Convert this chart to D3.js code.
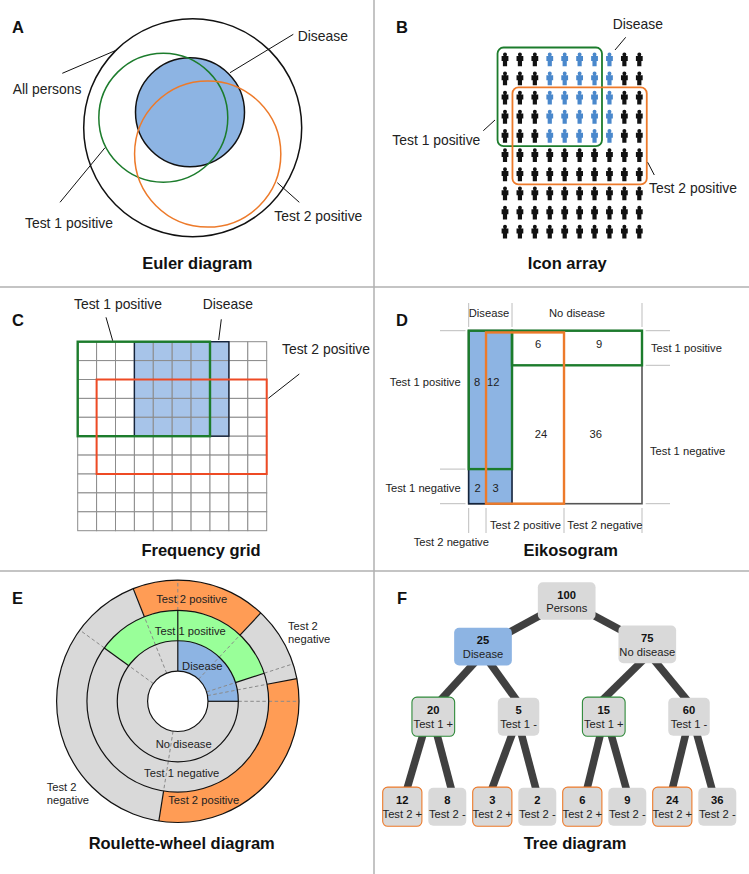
<!DOCTYPE html>
<html>
<head>
<meta charset="utf-8">
<script src="https://d3js.org/d3.v7.min.js"></script>
<style>
  html, body { margin: 0; padding: 0; background: #fff; }
  text { font-family: "Liberation Sans", Arial, sans-serif; }
</style>
</head>
<body>
<svg id="chart"></svg>
<script>
// counts of the worked example
const allPersons = 100;
const diseaseCount = 25;
const test1Count = 35;
const test2Count = 45;

// icon array and frequency grid share the same 10 x 10 layout
const gridCols = d3.range(10);
const gridRows = d3.range(10);
const diseaseCols = [3, 4, 5, 6, 7];
const diseaseRows = [0, 1, 2, 3, 4];
const test1Cols = [0, 1, 2, 3, 4, 5, 6];
const test1Rows = [0, 1, 2, 3, 4];
const test2Cols = [1, 2, 3, 4, 5, 6, 7, 8, 9];
const test2Rows = [2, 3, 4, 5, 6];

// eikosogram, in percent of all persons
const eikoDiseaseWidth = 25;
const eikoTest2NegInDisease = 10;
const eikoTest2PosEnd = 55;
const eikoTest1PosInDisease = 80;
const eikoTest1PosInHealthy = 20;
const eikoNumbers = ['8', '12', '6', '9', '24', '36', '2', '3'];

// roulette wheel, in percent of the circle
const wheelRing1 = [25, 75];
const wheelRing2 = [20, 65, 15];
const wheelRing3 = [18, 10, 30.5, 41.5];
const wheelRing3Start = -6;
const wheelRing1Kinds = ['disease', 'grey'];
const wheelRing2Kinds = ['test1', 'grey', 'test1'];
const wheelRing3Kinds = ['test2', 'grey', 'test2', 'grey'];

// tree, level by level
const treeValues = [[100], [25, 75], [20, 5, 15, 60], [12, 8, 3, 2, 6, 9, 24, 36]];
const treeLabels = [
  ['Persons'],
  ['Disease', 'No disease'],
  ['Test 1 +', 'Test 1 -', 'Test 1 +', 'Test 1 -'],
  ['Test 2 +', 'Test 2 -', 'Test 2 +', 'Test 2 -', 'Test 2 +', 'Test 2 -', 'Test 2 +', 'Test 2 -']
];

const width = 749;
const height = 874;
const blue = '#8db4e3';
const grey = '#d9d9d9';
const green = '#1c7c2c';
const orange = '#ed7a2a';
const small = 11.2;

const svg = d3.select('#chart')
  .attr('width', width)
  .attr('height', height)
  .style('display', 'block');

function label(x, y, str, size = 13.9, anchor = 'start', fill = '#222') {
  return svg.append('text')
    .attr('x', x)
    .attr('y', y)
    .attr('font-size', size)
    .attr('text-anchor', anchor)
    .attr('fill', fill)
    .text(str);
}

function heading(x, y, str) {
  label(x, y, str, 16.5, 'middle', '#111').attr('font-weight', 'bold');
}

function letter(x, y, str) {
  label(x, y, str, 16.5, 'start', '#111').attr('font-weight', 'bold');
}

function leader(x1, y1, x2, y2, color = '#111', w = 1) {
  svg.append('line')
    .attr('x1', x1).attr('y1', y1).attr('x2', x2).attr('y2', y2)
    .attr('stroke', color)
    .attr('stroke-width', w);
}

function box(x0, y0, x1, y1, stroke, w, fill = 'none', r = 0) {
  svg.append('rect')
    .attr('x', x0).attr('y', y0)
    .attr('width', x1 - x0).attr('height', y1 - y0)
    .attr('rx', r)
    .attr('fill', fill)
    .attr('stroke', stroke)
    .attr('stroke-width', w);
}

// panel dividers
leader(374, 0, 374, height, '#b0b0b0', 1.5);
leader(0, 287, width, 287, '#b0b0b0', 1.5);
leader(0, 571, width, 571, '#b0b0b0', 1.5);

// ---------- A: Euler diagram ----------
const eulerR = d3.scaleSqrt().domain([0, 100]).range([0, 109]);

function eulerCircle(cx, cy, count, stroke, fill, w) {
  svg.append('circle')
    .attr('cx', cx).attr('cy', cy)
    .attr('r', eulerR(count))
    .attr('fill', fill)
    .attr('stroke', stroke)
    .attr('stroke-width', w);
}

eulerCircle(192.7, 127.7, allPersons, '#111', 'none', 1.5);
eulerCircle(190, 112.3, diseaseCount, '#111', blue, 1.5);
eulerCircle(163.3, 117.7, test1Count, green, 'none', 1.5);
eulerCircle(207.7, 154, test2Count, orange, 'none', 1.5);

leader(62.3, 73.3, 116.7, 50);
leader(293.3, 34.3, 230, 72.7);
leader(105, 147.7, 60, 202.3);
leader(277.3, 182.7, 299.3, 202.3);

letter(12, 33.3, 'A');
label(297.7, 40.7, 'Disease');
label(12.7, 94, 'All persons');
label(25, 228.3, 'Test 1 positive');
label(274.3, 220.7, 'Test 2 positive');
heading(197.3, 269, 'Euler diagram');

// ---------- B: Icon array ----------
const iconX = d3.scalePoint().domain(gridCols).range([505, 639.3]);
const iconY = d3.scalePoint().domain(gridRows).range([59.3, 231.7]);

const personPath = d3.path();
personPath.arc(0, -4.9, 2, 0, 2 * Math.PI);
personPath.moveTo(-3.4, -3.2);
personPath.lineTo(3.4, -3.2);
personPath.lineTo(3.4, 1.8);
personPath.lineTo(2.1, 1.8);
personPath.lineTo(2.1, 6.9);
personPath.lineTo(-2.1, 6.9);
personPath.lineTo(-2.1, 1.8);
personPath.lineTo(-3.4, 1.8);
personPath.closePath();

const people = gridRows.flatMap(row => gridCols.map(col => ({ row, col })));

svg.append('g')
  .selectAll('path')
  .data(people)
  .join('path')
  .attr('d', personPath.toString())
  .attr('transform', d => `translate(${iconX(d.col)},${iconY(d.row)})`)
  .attr('fill', d => diseaseCols.includes(d.col) && diseaseRows.includes(d.row) ? '#4a88cc' : '#111');

const iconHalfX = iconX.step() / 2;
const iconHalfY = iconY.step() / 2;

function iconBox(cols, rows, stroke, padTop) {
  box(iconX(cols[0]) - iconHalfX, iconY(rows[0]) - iconHalfY - padTop,
    iconX(cols[cols.length - 1]) + iconHalfX, iconY(rows[rows.length - 1]) + iconHalfY + 0.6,
    stroke, 1.8, 'none', 6);
}

iconBox(test1Cols, test1Rows, green, 2.2);
iconBox(test2Cols, test2Rows, orange, 0.6);

leader(625.7, 37.3, 615, 50);
leader(495, 120, 483.3, 130.7);
leader(647.7, 162.3, 654.3, 175);

letter(396, 33.3, 'B');
label(612.7, 29.3, 'Disease');
label(392.3, 145.3, 'Test 1 positive');
label(649, 192.7, 'Test 2 positive');
heading(567.3, 269.3, 'Icon array');

// ---------- C: Frequency grid ----------
const cellX = d3.scaleBand().domain(gridCols).range([77.7, 266.7]);
const cellY = d3.scaleBand().domain(gridRows).range([341.7, 530.7]);

svg.append('g')
  .selectAll('rect')
  .data(people)
  .join('rect')
  .attr('x', d => cellX(d.col))
  .attr('y', d => cellY(d.row))
  .attr('width', cellX.bandwidth())
  .attr('height', cellY.bandwidth())
  .attr('fill', d => diseaseCols.includes(d.col) && diseaseRows.includes(d.row) ? '#a7c4e9' : '#fff')
  .attr('stroke', '#8c8c8c')
  .attr('stroke-width', 1);

function gridBox(cols, rows, stroke, w) {
  box(cellX(cols[0]), cellY(rows[0]),
    cellX(cols[cols.length - 1]) + cellX.bandwidth(), cellY(rows[rows.length - 1]) + cellY.bandwidth(),
    stroke, w);
}

gridBox(diseaseCols, diseaseRows, '#14243c', 1.4);
gridBox(test1Cols, test1Rows, green, 2.4);
gridBox(test2Cols, test2Rows, '#ee4a24', 2);

leader(106, 317.3, 112.7, 340.7);
leader(221.3, 319.3, 218.7, 340);
leader(299.3, 374, 268.3, 398.3);

letter(12, 325.7, 'C');
label(74, 309, 'Test 1 positive');
label(202.7, 309, 'Disease');
label(282, 354, 'Test 2 positive');
heading(201, 555.7, 'Frequency grid');

// ---------- D: Eikosogram ----------
const eikoX = d3.scaleLinear().domain([0, 100]).range([468.7, 642]);
const eikoY = d3.scaleLinear().domain([0, 100]).range([330.7, 503.7]);

box(eikoX(0), eikoY(0), eikoX(100), eikoY(100), '#555', 1.6, '#fff');
box(eikoX(0), eikoY(0), eikoX(eikoDiseaseWidth), eikoY(100), '#14243c', 1.6, blue);
box(eikoX(0), eikoY(0), eikoX(eikoDiseaseWidth), eikoY(eikoTest1PosInDisease), green, 2.4);
box(eikoX(eikoDiseaseWidth), eikoY(0), eikoX(100), eikoY(eikoTest1PosInHealthy), green, 2.4);
box(eikoX(eikoTest2NegInDisease), eikoY(1), eikoX(eikoTest2PosEnd), eikoY(100), orange, 2.4);

const eikoTick = '#bdbdbd';
[0, eikoDiseaseWidth, 100].forEach(v => leader(eikoX(v), 303, eikoX(v), 327, eikoTick, 1));
[0, eikoTest1PosInDisease, 100].forEach(v => leader(440, eikoY(v), 465.5, eikoY(v), eikoTick, 1));
[0, eikoTest1PosInHealthy, 100].forEach(v => leader(645.7, eikoY(v), 670, eikoY(v), eikoTick, 1));
[0, eikoTest2NegInDisease, eikoTest2PosEnd, 100].forEach(v => leader(eikoX(v), 508, eikoX(v), 533, eikoTick, 1));

const eikoNumX = [477, 493.3, 538, 599, 541, 595.7, 477.7, 495.7];
const eikoNumY = [386, 386, 348, 348, 438, 438, 492, 492];
eikoNumbers.forEach((n, i) => label(eikoNumX[i], eikoNumY[i], n, small, 'middle'));

letter(396, 326, 'D');
label(489, 316.7, 'Disease', small, 'middle');
label(577, 316.7, 'No disease', small, 'middle');
label(651, 351.7, 'Test 1 positive', small);
label(650, 454.7, 'Test 1 negative', small);
label(460.7, 386, 'Test 1 positive', small, 'end');
label(460.7, 492, 'Test 1 negative', small, 'end');
label(490, 528.7, 'Test 2 positive', small);
label(567.3, 528.7, 'Test 2 negative', small);
label(413.7, 546.3, 'Test 2 negative', small);
heading(570.7, 555.7, 'Eikosogram');

// ---------- E: Roulette-wheel diagram ----------
const wheelG = svg.append('g').attr('transform', 'translate(177.8,701.3)');
const ringR = d3.scaleLinear().domain([0, 3]).range([30.2, 121.2]);
const wheelAngle = d3.scaleLinear().domain([0, 100]).range([0, 2 * Math.PI]);
const wheelFill = { disease: blue, grey: grey, test1: '#99ff99', test2: '#ff9c55' };

const wheelRings = [
  { values: wheelRing1, kinds: wheelRing1Kinds, start: 0 },
  { values: wheelRing2, kinds: wheelRing2Kinds, start: 0 },
  { values: wheelRing3, kinds: wheelRing3Kinds, start: wheelRing3Start }
];

const ringSlices = wheelRings.map(ring => d3.pie()
  .sort(null)
  .startAngle(wheelAngle(ring.start))
  .endAngle(wheelAngle(ring.start + 100))(ring.values));

ringSlices.forEach((slices, k) => {
  const arc = d3.arc().innerRadius(ringR(k)).outerRadius(ringR(k + 1));
  wheelG.append('g')
    .selectAll('path')
    .data(slices)
    .join('path')
    .attr('d', arc)
    .attr('fill', (d, i) => wheelFill[wheelRings[k].kinds[i]]);
});

// a cut of one ring shows as a dashed line across the rings that do not share it
const ringCuts = ringSlices.map(slices =>
  slices.map(s => ((s.startAngle % (2 * Math.PI)) + 2 * Math.PI) % (2 * Math.PI)));
const sameCut = (a, b) => Math.abs(a - b) < 1e-6;
const allCuts = ringCuts.flat().filter((a, i, arr) => arr.findIndex(b => sameCut(a, b)) === i);

ringCuts.forEach((cuts, k) => {
  allCuts.filter(a => !cuts.some(b => sameCut(a, b))).forEach(a => {
    const p0 = d3.pointRadial(a, ringR(k));
    const p1 = d3.pointRadial(a, ringR(k + 1));
    wheelG.append('line')
      .attr('x1', p0[0]).attr('y1', p0[1]).attr('x2', p1[0]).attr('y2', p1[1])
      .attr('stroke', '#8a8a8a')
      .attr('stroke-width', 1)
      .attr('stroke-dasharray', '3.5,2.5');
  });
});

ringCuts.forEach((cuts, k) => {
  cuts.forEach(a => {
    const p0 = d3.pointRadial(a, ringR(k));
    const p1 = d3.pointRadial(a, ringR(k + 1));
    wheelG.append('line')
      .attr('x1', p0[0]).attr('y1', p0[1]).attr('x2', p1[0]).attr('y2', p1[1])
      .attr('stroke', '#111')
      .attr('stroke-width', 1.2);
  });
});

ringR.ticks(3).forEach(t => {
  wheelG.append('circle')
    .attr('r', ringR(t))
    .attr('fill', t === 0 ? '#fff' : 'none')
    .attr('stroke', '#111')
    .attr('stroke-width', 1.2);
});

letter(12, 604.3, 'E');
label(191.7, 603.3, 'Test 2 positive', small, 'middle');
label(190.3, 635.3, 'Test 1 positive', small, 'middle');
label(202.3, 669.7, 'Disease', small, 'middle');
label(183.7, 748.3, 'No disease', small, 'middle');
label(181.7, 776.7, 'Test 1 negative', small, 'middle');
label(203.7, 804.3, 'Test 2 positive', small, 'middle');
label(288, 630, 'Test 2', small);
label(288, 643.3, 'negative', small);
label(46.7, 791, 'Test 2', small);
label(46.7, 804.3, 'negative', small);
heading(181.7, 849, 'Roulette-wheel diagram');

// ---------- F: Tree diagram ----------
const levelX = [
  d3.scalePoint().domain(d3.range(1)).range([566.7, 566.7]),
  d3.scalePoint().domain(d3.range(2)).range([483, 647.3]),
  d3.scalePoint().domain(d3.range(4)).range([433.3, 689]),
  d3.scalePoint().domain(d3.range(8)).range([402.3, 717.3])
];
const levelCy = [601, 646, 716.7, 806.7];
const levelW = [57.7, 57.7, 41.5, 38];
const levelH = [37.5, 37.7, 38, 38];

const treeNodes = treeValues.flatMap((vals, level) => vals.map((value, i) => ({
  level, i, value,
  text: treeLabels[level][i],
  x: levelX[level](i),
  y: levelCy[level] + (level === 1 ? (i === 0 ? 0.7 : -1.7) : 0)
})));
const nodeAt = (level, i) => treeNodes.find(n => n.level === level && n.i === i);

// where each bar leaves the parent and enters the child, relative to their centres
const linkStartDx = [0, 0, -11, 8.7, -7.3, 9.3, -10.7, 4, -7, 3.3, -3.7, 7.7, -3.7, 8.3];
const linkEndDx = [0, 0, 9.3, -3.7, 1, -4, 5, 3.7, 0, -1.7, 5, -1.3, 0.3, -5.7];

const treeLinks = treeNodes.filter(n => n.level > 0).map((child, k) => {
  const parent = nodeAt(child.level - 1, Math.floor(child.i / 2));
  const flat = child.level === 1;
  const y0 = flat ? parent.y : parent.y + levelH[parent.level] / 2;
  const y1 = flat ? child.y : child.y - levelH[child.level] / 2;
  const x0 = parent.x + linkStartDx[k];
  const x1 = child.x + linkEndDx[k];
  const slope = (x1 - x0) / (y1 - y0);
  const ext = flat ? 0 : 3;
  return { x0: x0 - slope * ext, y0: y0 - ext, x1: x1 + slope * ext, y1: y1 + ext };
});

svg.append('g')
  .selectAll('line')
  .data(treeLinks)
  .join('line')
  .attr('x1', d => d.x0).attr('y1', d => d.y0)
  .attr('x2', d => d.x1).attr('y2', d => d.y1)
  .attr('stroke', '#404040')
  .attr('stroke-width', 7.5);

const nodeFill = n => n.text === 'Disease' ? blue : grey;
const nodeStroke = n => {
  if (n.text === 'Test 1 +') return '#2f8a3a';
  if (n.text === 'Test 2 +') return orange;
  return 'none';
};

const nodeG = svg.append('g')
  .selectAll('g')
  .data(treeNodes)
  .join('g')
  .attr('transform', d => `translate(${d.x},${d.y})`);

nodeG.append('rect')
  .attr('x', d => -levelW[d.level] / 2 - (nodeStroke(d) === 'none' ? 0 : 0.6))
  .attr('y', d => -levelH[d.level] / 2 - (nodeStroke(d) === 'none' ? 0 : 0.6))
  .attr('width', d => levelW[d.level] + (nodeStroke(d) === 'none' ? 0 : 1.2))
  .attr('height', d => levelH[d.level] + (nodeStroke(d) === 'none' ? 0 : 1.2))
  .attr('rx', 5)
  .attr('fill', nodeFill)
  .attr('stroke', nodeStroke)
  .attr('stroke-width', 1.1);

nodeG.append('text')
  .attr('y', -2.3)
  .attr('text-anchor', 'middle')
  .attr('font-size', small)
  .attr('font-weight', 'bold')
  .attr('fill', '#111')
  .text(d => d.value);

nodeG.append('text')
  .attr('y', 11.3)
  .attr('text-anchor', 'middle')
  .attr('font-size', small)
  .attr('fill', '#222')
  .text(d => d.text);

letter(397, 604.3, 'F');
heading(575, 849, 'Tree diagram');
</script>
</body>
</html>
